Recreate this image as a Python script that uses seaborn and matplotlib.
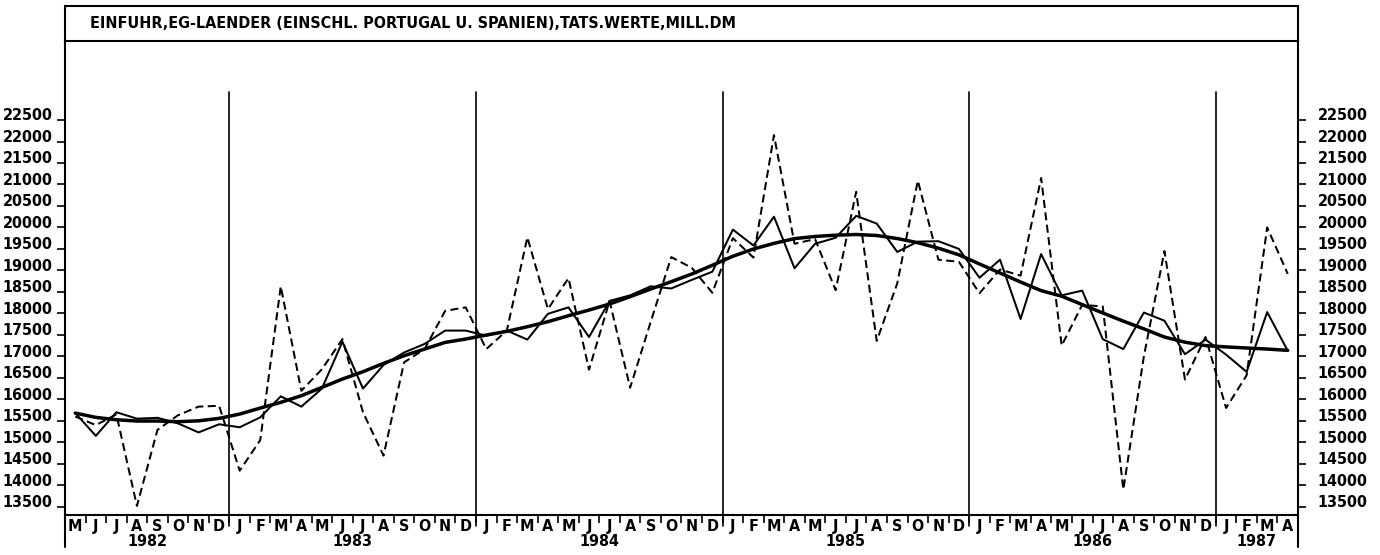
import matplotlib
matplotlib.use("Agg")
import matplotlib.pyplot as plt
import matplotlib.transforms as mtransforms
from matplotlib.lines import Line2D
import numpy as np
import pandas as pd
import seaborn as sns

# ---- data: monthly imports from EC countries, May 1982 - April 1987 (Mill. DM) ----
title = "EINFUHR,EG-LAENDER (EINSCHL. PORTUGAL U. SPANIEN),TATS.WERTE,MILL.DM"

years = [1982] * 8 + [1983] * 12 + [1984] * 12 + [1985] * 12 + [1986] * 12 + [1987] * 4
month_letters = (list("MJJASOND") + list("JFMAMJJASOND") * 4 + list("JFMA"))

# actual values (dashed)
actual = [
    15600, 15400, 15650, 13520, 15290, 15630, 15830, 15850,
    14340, 15050, 18630, 16200, 16700, 17400, 15700, 14690, 16860, 17170, 18060, 18140,
    17170, 17600, 19770, 18100, 18820, 16690, 18290, 16270, 17800, 19310, 19060, 18480,
    19750, 19300, 22150, 19620, 19730, 18540, 20830, 17360, 18700, 21090, 19250, 19200,
    18470, 19020, 18880, 21150, 17250, 18200, 18160, 13900, 17000, 19450, 16460, 17450,
    15800, 16560, 20000, 18920,
]
# seasonally adjusted values (thin solid)
adjusted = [
    15680, 15150, 15700, 15550, 15570, 15440, 15230, 15420,
    15350, 15580, 16070, 15830, 16250, 17340, 16250, 16800, 17090, 17290, 17600, 17600,
    17480, 17600, 17390, 17990, 18140, 17450, 18290, 18420, 18630, 18580, 18780, 18970,
    19950, 19580, 20250, 19050, 19620, 19760, 20270, 20090, 19430, 19670, 19680, 19500,
    18830, 19250, 17870, 19380, 18420, 18530, 17400, 17170, 18020, 17830, 17050, 17390,
    17040, 16640, 18030, 17130,
]
# trend (thick solid)
trend = [
    15680, 15580, 15525, 15495, 15495, 15480, 15500, 15557,
    15657, 15797, 15930, 16084, 16278, 16472, 16643, 16837, 17015, 17170, 17325, 17403,
    17496, 17582, 17690, 17807, 17946, 18078, 18218, 18389, 18567, 18738, 18916, 19120,
    19330, 19498, 19630, 19740, 19790, 19820, 19836, 19813, 19742, 19645, 19518, 19363,
    19150, 18940, 18730, 18530, 18400, 18205, 18010, 17820, 17640, 17450, 17330, 17250,
    17220, 17195, 17170, 17140,
]
y_ticks = list(range(13500, 23000, 500))

# ---- style ----
sns.set_style("white")
plt.rcParams["font.family"] = ["DejaVu Sans"]
plt.rcParams["font.stretch"] = "condensed"
plt.rcParams["font.weight"] = "bold"
for key in ("text.color", "axes.labelcolor", "xtick.color", "ytick.color",
            "axes.edgecolor"):
    plt.rcParams[key] = "black"
FS = 11.5

df = pd.DataFrame({
    "idx": np.arange(len(actual)),
    "actual": actual,
    "adjusted": adjusted,
    "trend": trend,
})

fig = plt.figure(figsize=(13.8, 5.55), dpi=100)
ax = fig.add_axes([0.04710, 0.07297, 0.89348, 0.85370])

sns.lineplot(data=df, x="idx", y="actual", ax=ax, color="black", lw=1.45,
             linestyle="--")
ax.lines[-1].set_dashes((4, 2.2))
sns.lineplot(data=df, x="idx", y="adjusted", ax=ax, color="black", lw=1.45)
sns.lineplot(data=df, x="idx", y="trend", ax=ax, color="black", lw=2.5)

ax.set_xlim(-0.5, len(actual) - 0.5)
ax.set_ylim(13320, 24346)
ax.set_xlabel("")
ax.set_ylabel("")

# frame: top line under the title box and bottom axis line
for side in ("left", "right"):
    ax.spines[side].set_visible(False)
for side in ("top", "bottom"):
    ax.spines[side].set_linewidth(1.5)
    ax.spines[side].set_color("black")

axes_tr = ax.transAxes
blend = mtransforms.blended_transform_factory(ax.transData, ax.transAxes)

# side frame lines running from the title box down past the labels
for xa in (0.0, 1.0):
    ax.add_line(Line2D([xa, xa], [-0.068, 1.074], transform=axes_tr,
                       color="black", lw=1.5, clip_on=False))
# top line of the title box
ax.add_line(Line2D([0, 1], [1.074, 1.074], transform=axes_tr,
                   color="black", lw=1.5, clip_on=False))
ax.text(0.02, 1.037, title, transform=axes_tr, ha="left", va="center",
        fontsize=FS, fontweight="bold", color="black")

# year separators
boundaries = [i - 0.5 for i in range(1, len(years)) if years[i] != years[i - 1]]
for b in boundaries:
    ax.add_line(Line2D([b, b], [-0.025, 0.891], transform=blend,
                       color="black", lw=1.2, clip_on=False))

# y axis ticks on both sides, labels sitting just above the tick marks
ax.set_yticks(y_ticks)
ax.set_yticklabels([str(v) for v in y_ticks])
ax.tick_params(axis="y", which="major", direction="out", length=6, width=1.2,
               left=True, right=True, labelleft=True, labelright=True,
               labelsize=FS, pad=3, color="black", labelcolor="black")
for lab in ax.get_yticklabels():
    lab.set_fontweight("bold")
raise_lab = mtransforms.ScaledTranslation(0, 4 / 72, fig.dpi_scale_trans)
right_shift = mtransforms.ScaledTranslation(5 / 72, 4 / 72, fig.dpi_scale_trans)
for tick in ax.yaxis.get_major_ticks():
    tick.label1.set_transform(tick.label1.get_transform() + raise_lab)
    tick.label2.set_transform(tick.label2.get_transform() + right_shift)

# month letters under each month, short separators between months
ax.set_xticks(np.arange(len(month_letters)))
ax.set_xticklabels(month_letters)
ax.set_xticks(np.arange(len(month_letters) + 1) - 0.5, minor=True)
ax.tick_params(axis="x", which="major", length=0, pad=3.5, labelsize=FS,
               labelcolor="black")
ax.tick_params(axis="x", which="minor", direction="out", length=6, width=1.2,
               bottom=True, color="black")
for lab in ax.get_xticklabels():
    lab.set_fontweight("bold")

# year labels centred under their months
yr_arr = np.array(years)
for yr in sorted(set(years)):
    pos = np.where(yr_arr == yr)[0]
    ax.text(pos.mean(), -0.056, str(yr), transform=blend, ha="center",
            va="center", fontsize=FS, fontweight="bold", color="black")

ax.grid(False)
fig.savefig("out.png", dpi=100, facecolor="white")
